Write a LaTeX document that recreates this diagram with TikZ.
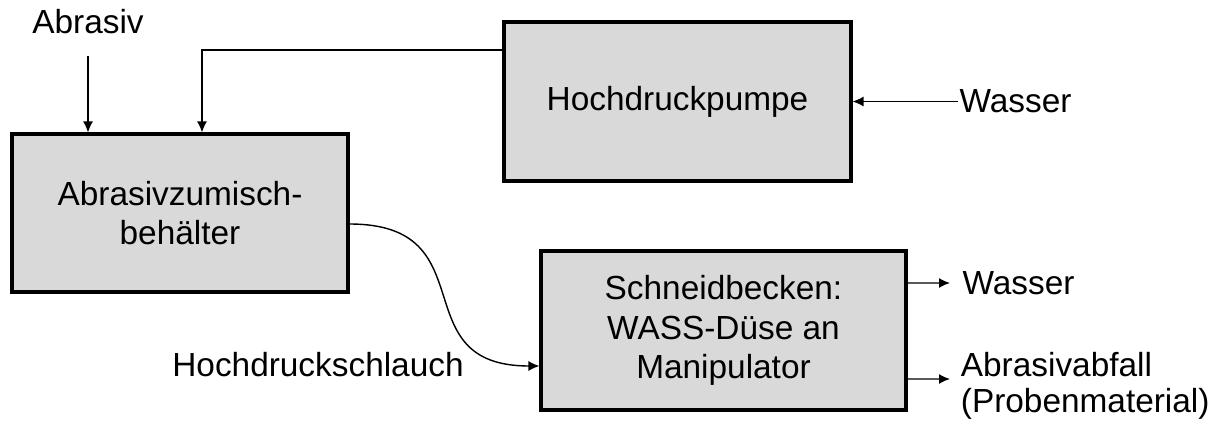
\documentclass[tikz,border=0pt]{standalone}
\usepackage{fontspec}
\setmainfont{Liberation Sans}
\usepackage{tikz}
\usetikzlibrary{arrows.meta,positioning}
\definecolor{boxgray}{RGB}{217,217,217}

\begin{document}
\begin{tikzpicture}[x=0.02cm,y=-0.02cm,
        font=\fontsize{19}{22.5}\selectfont,
        block/.style={draw,line width=1.8pt,fill=boxgray,align=center,inner sep=0pt},
        lbl/.style={inner sep=1pt,align=left},
        outlbl/.style={lbl,anchor=west,inner xsep=7pt},
        flow/.style={line width=0.8pt,-{Latex[length=2.2mm,width=2mm]}}]
        \useasboundingbox (0,0) rectangle (1228,424);

        \node (mixer)[block,minimum width=6.72cm,minimum height=3.16cm] at (180,213) {Abrasivzumisch-\\behälter};
        \node (pump)[block,minimum width=6.94cm,minimum height=3.18cm] at (677.5,101.5) {Hochdruckpumpe};
        \node (sink)[block,minimum width=7.3cm,minimum height=3.18cm] at (723.5,330.5) {Schneidbecken:\\WASS-Düse an\\Manipulator};

        \node (abrasiv)[lbl] at (88,22) {Abrasiv};
        \node (wasserin)[lbl,right=2.1cm of pump] {Wasser};
        \node (schlauch)[lbl] at (318,365) {Hochdruckschlauch};
        \node (wasserout)[outlbl] at (950,283) {Wasser};
        \node (abfall)[outlbl,font=\fontsize{19}{20.5}\selectfont,inner xsep=6pt] at (950,386) {Abrasivabfall\\(Probenmaterial)};

        %% inputs
        \draw[flow] ([yshift=-0.4cm]abrasiv.south) -- (abrasiv.south |- mixer.north);
        \draw[flow] ([yshift=1.03cm]pump.west) -| ([xshift=0.44cm]mixer.north);
        \draw[flow] (wasserin.west) -- (pump.east);

        %% hose
        \draw[flow] ([yshift=-0.22cm]mixer.east) to[out=0,in=180,looseness=1.5] ([yshift=-0.71cm]sink.west);

        %% outputs
        \draw[flow] ([yshift=0.95cm]sink.east) -- (wasserout.west);
        \draw[flow] ([yshift=-0.97cm]sink.east) -- ([yshift=0.14cm]abfall.west);

      \end{tikzpicture}
\end{document}
